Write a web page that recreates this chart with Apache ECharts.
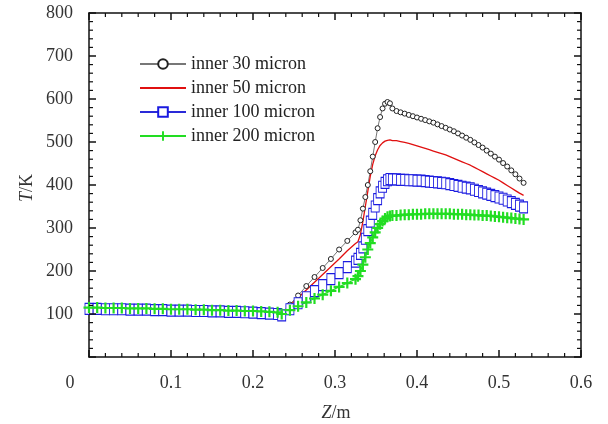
<!DOCTYPE html>
<html>
<head>
<meta charset="utf-8">
<script src="https://cdn.jsdelivr.net/npm/echarts@6/dist/echarts.min.js"></script>
<style>
  html, body { margin: 0; padding: 0; background: #fff; }
  #main { width: 608px; height: 424px; }
</style>
</head>
<body>
<div id="main"></div>
<script>
// Z 坐标 (m)
const zValues = [
  0, 0.01, 0.02, 0.03, 0.04, 0.05, 0.06, 0.07, 0.08, 0.09, 0.10, 0.11,
  0.12, 0.13, 0.14, 0.15, 0.16, 0.17, 0.18, 0.19, 0.20, 0.21, 0.22, 0.23,
  0.235, 0.245, 0.255, 0.265, 0.275, 0.285, 0.295, 0.305, 0.315, 0.325,
  0.328, 0.331, 0.334, 0.337, 0.340, 0.343, 0.346, 0.349, 0.352, 0.355,
  0.358, 0.361, 0.364, 0.367, 0.370,
  0.375, 0.380, 0.385, 0.390, 0.395, 0.400, 0.405, 0.410, 0.415, 0.420,
  0.425, 0.430, 0.435, 0.440, 0.445, 0.450, 0.455, 0.460, 0.465, 0.470,
  0.475, 0.480, 0.485, 0.490, 0.495, 0.500, 0.505, 0.510, 0.515, 0.520,
  0.525, 0.530
]

// 温度 (K)
const inner30 = [
  113, 113, 112, 112, 112, 111, 111, 111, 110, 110, 109, 109,
  109, 108, 108, 107, 107, 106, 106, 105, 105, 104, 103, 102,
  100, 122, 143, 165, 186, 207, 228, 250, 270, 290,
  296, 318, 345, 372, 400, 432, 466, 500, 532, 558,
  578, 589, 593, 590, 578,
  572, 569, 566, 563, 560, 557, 554, 551, 548, 545,
  541, 537, 533, 529, 525, 520, 515, 510, 505, 499,
  493, 487, 480, 473, 466, 459, 451, 443, 434, 425,
  415, 405
]
const inner50 = [
  113, 113, 112, 112, 112, 111, 111, 111, 110, 110, 109, 109,
  109, 108, 108, 107, 107, 106, 106, 105, 105, 104, 103, 102,
  102, 120, 138, 156, 174, 192, 210, 228, 247, 264,
  268, 285, 315, 350, 385, 420, 448, 468, 482, 492,
  498, 502, 504, 505, 503,
  503, 501, 499, 497, 494, 491, 488, 485, 482, 479,
  476, 473, 470, 466, 462, 458, 454, 450, 446, 441,
  436, 431, 426, 421, 416, 411, 405, 399, 393, 387,
  381, 376
]
const inner100 = [
  112, 112, 111, 111, 111, 110, 110, 110, 109, 109, 108, 108,
  108, 107, 107, 106, 106, 105, 105, 104, 103, 102, 101, 100,
  97, 111, 125, 139, 153, 167, 181, 195, 209, 222,
  228, 240, 255, 275, 295, 315, 333, 350, 367, 383,
  396, 405, 411, 414, 413,
  413, 412, 412, 411, 411, 410, 410, 409, 408, 407,
  406, 405, 404, 402, 400, 398, 396, 394, 392, 389,
  386, 383, 380, 377, 374, 371, 368, 364, 360, 356,
  352, 348
]
const inner200 = [
  115, 115, 114, 114, 114, 113, 113, 113, 112, 112, 111, 111,
  111, 110, 110, 109, 109, 108, 108, 107, 107, 106, 105, 104,
  100, 109, 118, 127, 136, 145, 154, 163, 172, 181,
  188, 200, 215, 232, 250, 265, 278, 290, 300, 309,
  316, 322, 326, 328, 329,
  329, 330, 331, 331, 332, 332, 332, 333, 333, 333,
  333, 333, 333, 333, 332, 332, 332, 331, 331, 330,
  330, 329, 329, 328, 327, 326, 325, 324, 323, 322,
  321, 320
]

//刻度标签
const xTickLabels = ['0', '0.1', '0.2', '0.3', '0.4', '0.5', '0.6']
const yTickLabels = ['100', '200', '300', '400', '500', '600', '700', '800']

const seriesNames = ['inner 30 micron', 'inner 50 micron', 'inner 100 micron', 'inner 200 micron']
const font = '"Liberation Serif", "Times New Roman", serif'
const labelFont = '18px "Liberation Serif", "Times New Roman", serif'

const pairs = arr => zValues.map((z, i) => [z, arr[i]])

const chart = echarts.init(document.getElementById('main'))

//坐标轴只画轴线，刻度线和文字另用 graphic 画
const frameAxis = () => ({
  axisLabel: { show: false },
  axisLine: { show: true, onZero: false, lineStyle: { color: '#111', width: 1.5 } },
  axisTick: { show: false },
  splitLine: { show: false }
})

const option = {
  animation: false,
  backgroundColor: '#fff',
  textStyle: { fontFamily: font },
  grid: { left: 89, right: 27, top: 13, bottom: 67, outerBoundsMode: 'none' },
  legend: {
    orient: 'vertical',
    left: 134,
    top: 50,
    itemGap: 6,
    itemWidth: 46,
    itemHeight: 12,
    textStyle: { fontFamily: font, fontSize: 18, color: '#222' },
    data: [
      seriesNames[0],
      { name: seriesNames[1], itemStyle: { color: 'rgba(0,0,0,0)', borderWidth: 0 } },
      seriesNames[2],
      seriesNames[3]
    ]
  },
  xAxis: [
    { type: 'value', min: 0, max: 0.6, interval: 0.1, ...frameAxis() },
    { type: 'value', position: 'top', min: 0, max: 0.6, interval: 0.1, ...frameAxis() }
  ],
  yAxis: [
    { type: 'value', min: 0, max: 800, interval: 100, ...frameAxis() },
    { type: 'value', position: 'right', min: 0, max: 800, interval: 100, ...frameAxis() }
  ],
  series: [
    {
      name: seriesNames[0],
      type: 'line',
      data: pairs(inner30),
      symbol: 'circle',
      symbolSize: 5,
      lineStyle: { color: '#777', width: 1 },
      itemStyle: { color: '#fff', borderColor: '#222', borderWidth: 1 }
    },
    {
      name: seriesNames[1],
      type: 'line',
      data: pairs(inner50),
      symbol: 'none',
      lineStyle: { color: '#e01010', width: 1.3 },
      itemStyle: { color: '#e01010' }
    },
    {
      name: seriesNames[2],
      type: 'line',
      data: pairs(inner100),
      symbol: 'rect',
      symbolSize: [8, 11],
      lineStyle: { color: '#2a2ad8', width: 1 },
      itemStyle: { color: '#fff', borderColor: '#1a1ae0', borderWidth: 1 }
    },
    {
      name: seriesNames[3],
      type: 'line',
      data: pairs(inner200),
      symbol: 'path://M4,0h2v4h4v2h-4v4h-2v-4h-4v-2h4z',
      symbolSize: 11,
      lineStyle: { color: '#22dd22', width: 1.2 },
      itemStyle: { color: '#22dd22' }
    }
  ]
}

chart.setOption(option)

const px = v => chart.convertToPixel({ xAxisIndex: 0 }, v)
const py = v => chart.convertToPixel({ yAxisIndex: 0 }, v)
const xLeft = px(0), xRight = px(0.6)
const yBottom = py(0), yTop = py(800)

//四边朝内的刻度线：主刻度 0.1 / 100，次刻度 5 等分
const tickLine = (x1, y1, x2, y2, major) => ({
  type: 'line',
  z: 100,
  shape: { x1, y1, x2, y2 },
  style: { stroke: '#111', lineWidth: major ? 1.5 : 1.2 }
})
const tickEls = []
for (let k = 0; k <= 30; k++) {
  const major = k % 5 === 0
  const len = major ? 7 : 4
  const x = px(k * 0.02)
  tickEls.push(tickLine(x, yBottom, x, yBottom - len, major))
  tickEls.push(tickLine(x, yTop, x, yTop + len, major))
}
for (let k = 0; k <= 40; k++) {
  const major = k % 5 === 0
  const len = major ? 7 : 4
  const y = py(k * 20)
  tickEls.push(tickLine(xLeft, y, xLeft + len, y, major))
  tickEls.push(tickLine(xRight, y, xRight - len, y, major))
}

//刻度文字和坐标轴名称，位置由坐标轴换算
const xLabelEls = xTickLabels.map(t => {
  const v = parseFloat(t)
  return {
    type: 'text',
    x: px(v) - (v === 0 ? 19 : 0),
    y: 374,
    style: { text: t, font: labelFont, fill: '#333', align: 'center', verticalAlign: 'top' }
  }
})
const yLabelEls = yTickLabels.map(t => ({
  type: 'text',
  x: 73,
  y: py(parseFloat(t)),
  style: { text: t, font: labelFont, fill: '#333', align: 'right', verticalAlign: 'middle' }
}))
const italicRich = {
  i: { fontFamily: font, fontSize: 18, fontStyle: 'italic', fill: '#333', color: '#333' },
  n: { fontFamily: font, fontSize: 18, fill: '#333', color: '#333' }
}
const nameEls = [
  {
    type: 'text',
    x: 336,
    y: 413,
    style: { text: '{i|Z}{n|/m}', font: labelFont, fill: '#333', align: 'center', verticalAlign: 'middle', rich: italicRich }
  },
  {
    type: 'text',
    x: 27,
    y: 188,
    rotation: Math.PI / 2,
    style: { text: '{i|T}{n|/K}', font: labelFont, fill: '#333', align: 'center', verticalAlign: 'middle', rich: italicRich }
  }
]

chart.setOption({ graphic: [...tickEls, ...xLabelEls, ...yLabelEls, ...nameEls] })
</script>
</body>
</html>
